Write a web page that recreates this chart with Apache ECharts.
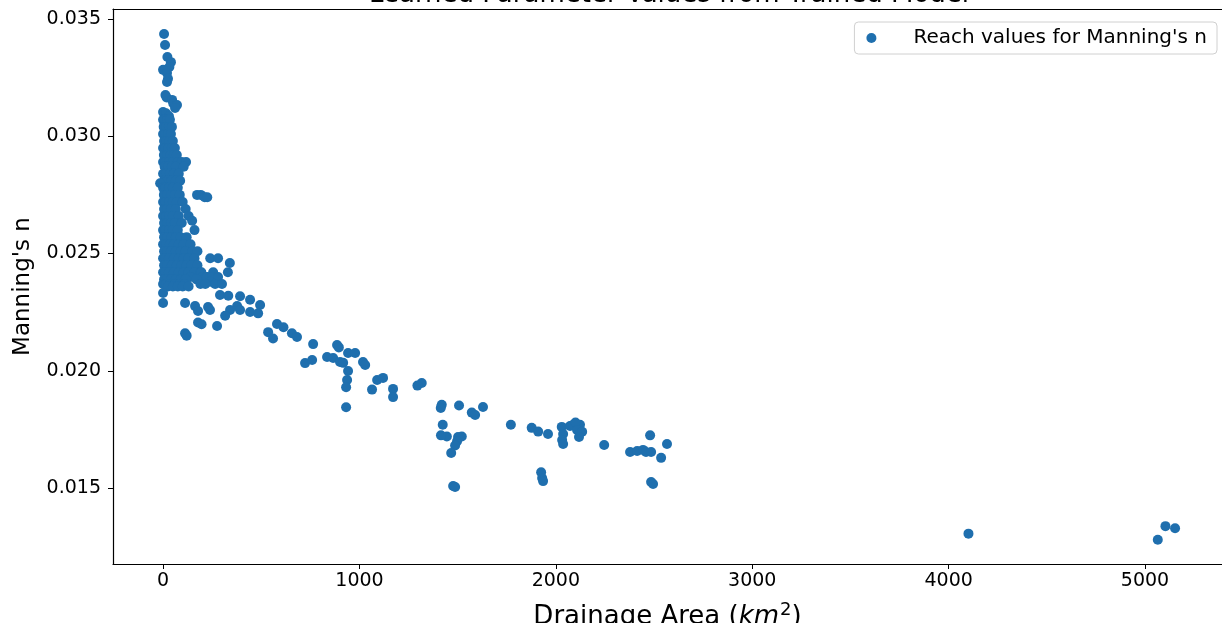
<!DOCTYPE html>
<html>
<head>
<meta charset="utf-8">
<script src="https://cdn.jsdelivr.net/npm/echarts@6/dist/echarts.min.js"></script>
<style>
  html, body { margin: 0; padding: 0; background: #fff; }
  #chart { width: 1222px; height: 623px; }
</style>
</head>
<body>
<div id="chart"></div>
<script>
  // tick labels
  var xTicks = [0, 1000, 2000, 3000, 4000, 5000];
  var yTicks = [0.015, 0.020, 0.025, 0.030, 0.035];

  // small headwater reaches: [n value, [drainage areas...]] per row
  var headwaterRows = [
    [0.03436, [5]], [0.03389, [10]], [0.03338, [22]], [0.03316, [40]],
    [0.03295, [32]], [0.03283, [0]], [0.03270, [20]], [0.03245, [25]],
    [0.03231, [20]], [0.03176, [12]], [0.03165, [18]], [0.03155, [46]],
    [0.03140, [52]], [0.03133, [71]], [0.03121, [61]], [0.03103, [0]],
    [0.03098, [15]], [0.03085, [30]],
    [0.0307, [0, 8, 22, 35]],
    [0.0304, [3, 15, 30, 45]],
    [0.0301, [0, 10, 25, 40]],
    [0.0298, [5, 18, 32, 50]],
    [0.0295, [0, 12, 28, 45, 60]],
    [0.0292, [4, 20, 38, 55, 70]],
    [0.0289, [0, 12, 30, 50, 75, 95, 117]],
    [0.0287, [8, 25, 45, 65, 105]],
    [0.0284, [0, 15, 35, 55, 80]],
    [0.0281, [5, 22, 42, 65, 87]],
    [0.0280, [-15]],
    [0.0278, [0, 12, 30, 50, 75]],
    [0.0275, [4, 20, 40, 60, 85, 173, 192]],
    [0.0274, [212, 225]],
    [0.0272, [0, 12, 30, 50, 70, 100]],
    [0.0269, [5, 20, 40, 65, 115]],
    [0.0266, [0, 15, 30, 50, 80, 130]],
    [0.0264, [148]],
    [0.0263, [5, 20, 40, 60, 95]],
    [0.0260, [0, 12, 30, 50, 75, 160]],
    [0.0257, [5, 22, 42, 65, 90, 120]],
    [0.0254, [0, 15, 35, 55, 80, 105, 140]],
    [0.0251, [5, 20, 40, 65, 90, 115, 150, 175]],
    [0.0248, [0, 12, 30, 55, 80, 105, 130, 160, 240, 280]],
    [0.0246, [340]],
    [0.0245, [5, 20, 45, 70, 95, 120, 145, 175]],
    [0.0242, [0, 12, 30, 55, 80, 105, 130, 160, 190, 195, 255, 330]],
    [0.0240, [140, 200, 220, 225, 250, 280]],
    [0.0239, [5, 20, 40, 65, 90, 115, 170]],
    [0.0238, [240]],
    [0.0237, [0, 15, 35, 60, 85, 110, 190, 215, 265, 300]],
    [0.0236, [25, 50, 75, 100, 130]]
  ];

  // scattered reaches: [drainage area, n]
  var lowerReaches = [
    [0, 0.02332], [0, 0.02289], [112, 0.02289], [163, 0.02276], [178, 0.02255],
    [178, 0.02206], [196, 0.02199], [229, 0.02272], [239, 0.02259], [275, 0.02191],
    [290, 0.02323], [332, 0.02320], [392, 0.02318], [443, 0.02303], [494, 0.02281],
    [377, 0.02276], [341, 0.02259], [392, 0.02259], [443, 0.02251], [484, 0.02245],
    [316, 0.02235], [112, 0.02160], [120, 0.02150], [535, 0.02165], [580, 0.02200],
    [613, 0.02186], [656, 0.02160], [560, 0.02138], [682, 0.02144], [764, 0.02114]
  ];

  var midReaches = [
    [723, 0.02033], [759, 0.02046], [835, 0.02059], [866, 0.02055], [886, 0.02110],
    [895, 0.02100], [901, 0.02038], [917, 0.02034], [942, 0.02076], [978, 0.02076],
    [1018, 0.02038], [1029, 0.02025], [942, 0.01999], [937, 0.01961], [932, 0.01930],
    [932, 0.01845], [1090, 0.01961], [1120, 0.01970], [1064, 0.01920], [1171, 0.01923],
    [1171, 0.01888], [1317, 0.01948], [1295, 0.01937], [1419, 0.01855], [1414, 0.01842],
    [1507, 0.01852], [1572, 0.01822], [1589, 0.01812], [1629, 0.01846], [1424, 0.01770],
    [1445, 0.01720], [1415, 0.01725], [1521, 0.01720], [1502, 0.01718], [1497, 0.01700],
    [1487, 0.01682], [1467, 0.01650], [1477, 0.01509], [1487, 0.01505]
  ];

  var largeReaches = [
    [1771, 0.01770], [1877, 0.01757], [1910, 0.01741], [1960, 0.01731], [2030, 0.01761],
    [2037, 0.01731], [2032, 0.01705], [2037, 0.01688], [2072, 0.01765], [2088, 0.01770],
    [2123, 0.01770], [2100, 0.01780], [2108, 0.01748], [2134, 0.01740], [2118, 0.01718],
    [1925, 0.01568], [1930, 0.01543], [1935, 0.01530], [2246, 0.01684], [2378, 0.01654],
    [2414, 0.01658], [2444, 0.01663], [2459, 0.01654], [2485, 0.01654], [2480, 0.01725],
    [2536, 0.01629], [2566, 0.01688], [2485, 0.01526], [2495, 0.01518],
    [4101, 0.01306], [5065, 0.01280], [5104, 0.01338], [5153, 0.01329]
  ];

  var reaches = [];
  headwaterRows.forEach(function (row) {
    row[1].forEach(function (a) { reaches.push([a, row[0]]); });
  });
  reaches = reaches.concat(lowerReaches, midReaches, largeReaches);

  var font = 'DejaVu Sans';
  var xMin = -255, xMax = 5392;
  var chart = echarts.init(document.getElementById('chart'));

  var option = {
    animation: false,
    backgroundColor: '#fff',
    graphic: [{
      type: 'text',
      x: 669,
      y: 8,
      z: 100,
      style: {
        text: 'Learned Parameter Values from Trained Model',
        fontFamily: font,
        fontSize: 26,
        fill: '#000',
        align: 'center',
        verticalAlign: 'bottom'
      }
    }],
    legend: {
      right: 5,
      top: 22,
      padding: [6, 10, 6, 12],
      itemWidth: 30,
      itemHeight: 10,
      icon: 'circle',
      borderColor: '#d0d0d0',
      borderWidth: 1,
      borderRadius: 4,
      backgroundColor: '#fff',
      textStyle: { fontFamily: font, fontSize: 20, color: '#000', padding: [0, 0, 0, 22] },
      data: ["Reach values for Manning's n"]
    },
    grid: { left: 113, top: 9, right: 0, bottom: 59, outerBoundsMode: 'none' },
    xAxis: [{
      type: 'value',
      min: xMin,
      max: xMax,
      name: 'Drainage Area ({i|km}{s|2})',
      nameLocation: 'middle',
      nameGap: 37,
      nameTextStyle: {
        fontFamily: font, fontSize: 26, color: '#000',
        rich: {
          i: { fontFamily: font, fontSize: 26, fontStyle: 'italic', color: '#000' },
          s: { fontFamily: font, fontSize: 18, color: '#000', padding: [0, 0, 14, 1] }
        }
      },
      axisLine: { onZero: false, lineStyle: { color: '#000', width: 1.2 } },
      axisTick: { length: 5, lineStyle: { color: '#000' }, customValues: xTicks },
      axisLabel: {
        fontFamily: font, fontSize: 19, color: '#000', margin: 8, customValues: xTicks,
        formatter: function (v) { return String(v); }
      },
      splitLine: { show: false }
    }, {
      type: 'value',
      position: 'top',
      min: xMin,
      max: xMax,
      axisLine: { onZero: false, lineStyle: { color: '#000', width: 1.2 } },
      axisTick: { show: false },
      axisLabel: { show: false },
      splitLine: { show: false }
    }],
    yAxis: {
      type: 'value',
      min: 0.011766,
      max: 0.035425,
      name: "Manning's n",
      nameLocation: 'middle',
      nameGap: 78,
      nameTextStyle: { fontFamily: font, fontSize: 23, color: '#000' },
      axisLine: { onZero: false, lineStyle: { color: '#000', width: 1.2 } },
      axisTick: { length: 5, lineStyle: { color: '#000' }, customValues: yTicks },
      axisLabel: {
        fontFamily: font, fontSize: 19, color: '#000', margin: 12, customValues: yTicks,
        formatter: function (v) { return v.toFixed(3); }
      },
      splitLine: { show: false }
    },
    series: [{
      name: "Reach values for Manning's n",
      type: 'scatter',
      xAxisIndex: 0,
      symbolSize: 10,
      itemStyle: { color: '#1f6fae', opacity: 1 },
      data: reaches
    }]
  };

  chart.setOption(option);
</script>
</body>
</html>
